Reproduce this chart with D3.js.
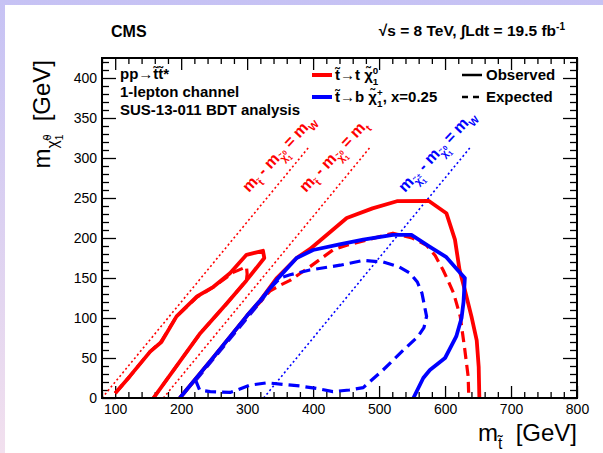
<!DOCTYPE html>
<html><head><meta charset="utf-8">
<script src="https://cdn.jsdelivr.net/npm/d3@7"></script>
<style>
body{margin:0;background:#fff}
svg{display:block}
text{font-family:"Liberation Sans",Arial,Helvetica,sans-serif;white-space:pre}
</style>
</head><body>
<svg id="c" width="603" height="453"></svg>
<script>
// ---------- data ----------
const xDomain = [80, 800];
const yDomain = [0, 425];
const xMajorTicks = [100, 200, 300, 400, 500, 600, 700, 800];
const yMajorTicks = [0, 50, 100, 150, 200, 250, 300, 350, 400];

// stop -> top + neutralino, observed (left sliver and main contour)
const redObsSliver = [[100,6],[122,27],[153,58],[170,70],[193,102],[224,127],[249,139],[274,156],[299,179],[324,184],[326,175],[299,147],[269,118],[229,81],[158,0]];
const redObsMain = [[198,0],[250,52],[300,103],[320,122],[345,150],[375,175],[395,186],[451,225],[490,237],[527,246],[575,246.5],[602,231],[615,198],[622,160],[630,135],[640,102],[648,72],[651,39],[652,0]];
// stop -> top + neutralino, expected
const redExpSliver = [[100,6],[122,27],[153,58],[170,71],[193,102],[224,126],[249,139],[279,157],[299,164],[300,155],[299,147],[269,118],[229,81],[158,0]];
const redExpMain = [[198,0],[250,52],[300,103],[320,120],[335,134],[350,141],[365,147],[395,164],[430,185],[451,191],[521,206],[550,200],[572,191],[585,178],[597,160],[605,146],[613,131],[623,102],[630,60],[635,27],[636,0]];
// stop -> b + chargino, observed / expected
const blueObs = [[198,0],[250,52],[300,103],[320,122],[345,148],[375,175],[400,185],[440,192],[476,198],[521,204],[549,204],[577,189],[602,176],[618,161],[630,150],[628,120],[625,100],[617,77],[600,50],[577,35],[567,25],[552,0]];
const blueExp = [[222,22],[260,60],[300,100],[320,120],[335,137],[350,150],[365,154],[395,160],[441,166],[476,172],[506,170],[530,164],[547,156],[558,145],[565,131],[572,102],[568,88],[559,77],[537,60],[506,35],[476,13],[455,10],[430,8],[405,12],[380,15],[355,17],[330,19],[304,16],[285,10],[274,7],[244,8],[228,10],[222,22]];

// kinematic boundaries
const lineMW = [[80,0],[393,313]];
const lineMt = [[173,0],[486,313]];
const lineMWchargino = [[325,0],[638,313]];

const red = "#ff0000", blue = "#0000ff";

// ---------- drawing ----------
const svg = d3.select("#c");
const defs = svg.append("defs");
const grad = defs.append("linearGradient").attr("id","bg").attr("x1",0).attr("y1",0).attr("x2",0).attr("y2",1);
grad.append("stop").attr("offset","0%").attr("stop-color","#c6c2f4");
grad.append("stop").attr("offset","100%").attr("stop-color","#f2e0ee");
svg.append("rect").attr("width",603).attr("height",453).attr("fill","url(#bg)");
svg.append("rect").attr("x",5).attr("y",5).attr("width",598).attr("height",448).attr("fill","#fff");

const X0=102, X1=577, Y0=398, Y1=58;
const x = d3.scaleLinear().domain(xDomain).range([X0,X1]);
const y = d3.scaleLinear().domain(yDomain).range([Y0,Y1]);

const clip = defs.append("clipPath").attr("id","clip");
clip.append("rect").attr("x",X0).attr("y",Y1).attr("width",X1-X0).attr("height",Y0-Y1);

const xMinor = d3.range(80, 801, 20).filter(v => v%100!==0);
const yMinor = d3.range(0, 426, 10).filter(v => v%50!==0);

function styleAxis(g){ g.select(".domain").remove(); g.selectAll(".tick line").attr("stroke","#000").attr("stroke-width",1.3); }

svg.append("g").attr("transform",`translate(0,${Y0})`)
  .call(d3.axisBottom(x).tickValues(xMajorTicks).tickSize(-12).tickPadding(6).tickFormat(d3.format("d")))
  .call(styleAxis).call(g=>g.selectAll("text").attr("font-size",14).attr("font-family","Liberation Sans, Arial, sans-serif"));
svg.append("g").attr("transform",`translate(0,${Y0})`)
  .call(d3.axisBottom(x).tickValues(xMinor).tickSize(-6).tickFormat("")).call(styleAxis);
svg.append("g").attr("transform",`translate(0,${Y1})`)
  .call(d3.axisTop(x).tickValues(xMajorTicks).tickSize(-12).tickFormat("")).call(styleAxis);
svg.append("g").attr("transform",`translate(0,${Y1})`)
  .call(d3.axisTop(x).tickValues(xMinor).tickSize(-6).tickFormat("")).call(styleAxis);

svg.append("g").attr("transform",`translate(${X0},0)`)
  .call(d3.axisLeft(y).tickValues(yMajorTicks).tickSize(-14).tickPadding(5).tickFormat(d3.format("d")))
  .call(styleAxis).call(g=>g.selectAll("text").attr("font-size",14).attr("font-family","Liberation Sans, Arial, sans-serif"));
svg.append("g").attr("transform",`translate(${X0},0)`)
  .call(d3.axisLeft(y).tickValues(yMinor).tickSize(-7).tickFormat("")).call(styleAxis);
svg.append("g").attr("transform",`translate(${X1},0)`)
  .call(d3.axisRight(y).tickValues(yMajorTicks).tickSize(-14).tickFormat("")).call(styleAxis);
svg.append("g").attr("transform",`translate(${X1},0)`)
  .call(d3.axisRight(y).tickValues(yMinor).tickSize(-7).tickFormat("")).call(styleAxis);

const line = d3.line().x(d=>x(d[0])).y(d=>y(d[1]));
const plot = svg.append("g").attr("clip-path","url(#clip)");

function draw(data, color, width, dash){
  const p = plot.append("path").attr("d", line(data)).attr("fill","none")
    .attr("stroke", color).attr("stroke-width", width)
    .attr("stroke-linejoin","round");
  if(dash) p.attr("stroke-dasharray", dash);
  return p;
}
draw(lineMW, red, 1.6, "2,2.6");
draw(lineMt, red, 1.6, "2,2.6");
draw(lineMWchargino, blue, 1.6, "2,2.6");
draw(redExpSliver, red, 3.2, "11,6");
draw(redExpMain, red, 3.2, "11,6");
draw(blueExp, blue, 3.2, "11,6");
draw(redObsSliver, red, 3.8);
draw(redObsMain, red, 3.8);
draw(blueObs, blue, 3.8);

// frame
svg.append("rect").attr("x",X0).attr("y",Y1).attr("width",X1-X0).attr("height",Y0-Y1)
  .attr("fill","none").attr("stroke","#000").attr("stroke-width",2);

// ---------- rich text helper ----------
function rich(g, x0, y0, node, size, fill, weight){
  if(typeof node === "string"){
    const t = g.append("text").attr("x",x0).attr("y",y0).attr("font-size",size)
      .attr("fill",fill).attr("font-weight",weight).text(node);
    return t.node().getComputedTextLength();
  }
  if(Array.isArray(node)){
    let w=0; for(const n of node){ w += rich(g, x0+w, y0, n, size, fill, weight); } return w;
  }
  const w = rich(g, x0, y0, node.t, size, fill, weight);
  let ws=0, wb=0;
  if(node.sup!=null) ws = rich(g, x0+w, y0-0.42*size, node.sup, size*0.65, fill, weight);
  if(node.sub!=null) wb = rich(g, x0+w, y0+0.32*size, node.sub, size*0.65, fill, weight);
  return w + Math.max(ws, wb);
}

// header
svg.append("text").attr("x",111).attr("y",37).attr("font-size",16).attr("font-weight","bold").text("CMS");
{
  const g = svg.append("g");
  const w = rich(g, 0, 0, ["\u221As = 8 TeV, \u222BLdt = 19.5 fb", {t:"", sup:"-1"}], 15.5, "#000", "bold");
  g.attr("transform", `translate(${565-w},36)`);
}

// info block
const info = ["pp\u2192t\u0303t\u0303*", "1-lepton channel", "SUS-13-011 BDT analysis"];
const infoY = [79, 97, 115];
info.forEach((s,i)=>{
  svg.append("text").attr("x",120).attr("y",infoY[i]).attr("font-size",15).attr("font-weight","bold").text(s);
});

// legend
const leg = svg.append("g");
leg.append("line").attr("x1",312).attr("x2",332).attr("y1",75).attr("y2",75).attr("stroke",red).attr("stroke-width",4);
leg.append("line").attr("x1",312).attr("x2",332).attr("y1",97).attr("y2",97).attr("stroke",blue).attr("stroke-width",4);
leg.append("line").attr("x1",462).attr("x2",482).attr("y1",75).attr("y2",75).attr("stroke","#000").attr("stroke-width",2.5);
leg.append("line").attr("x1",462).attr("x2",482).attr("y1",97).attr("y2",97).attr("stroke","#000").attr("stroke-width",2.5).attr("stroke-dasharray","6,5");
rich(leg, 335, 80, ["t\u0303\u2192t ", {t:"\u03C7\u0303", sup:"0", sub:"1"}], 15, "#000", "bold");
rich(leg, 335, 102, ["t\u0303\u2192b ", {t:"\u03C7\u0303", sup:"+", sub:"1"}, ", x=0.25"], 15, "#000", "bold");
leg.append("text").attr("x",486).attr("y",80).attr("font-size",15).attr("font-weight","bold").text("Observed");
leg.append("text").attr("x",486).attr("y",102).attr("font-size",15).attr("font-weight","bold").text("Expected");

// rotated labels on kinematic lines
const chi0 = {t:"\u03C7\u0303", sup:"0", sub:"1"};
const chiP = {t:"\u03C7\u0303", sup:"\u00B1", sub:"1"};
function rotLabel(px, py, nodes, color){
  const g = svg.append("g").attr("transform", `translate(${px},${py}) rotate(-47)`);
  rich(g, 0, 0, nodes, 16, color, "bold");
}
rotLabel(249, 193, [{t:"m", sub:"t\u0303"}, " - ", {t:"m", sub:chi0}, " = ", {t:"m", sub:"W"}], red);
rotLabel(306, 193, [{t:"m", sub:"t\u0303"}, " - ", {t:"m", sub:chi0}, " = ", {t:"m", sub:"t"}], red);
rotLabel(405, 193, [{t:"m", sub:chiP}, " - ", {t:"m", sub:chi0}, " = ", {t:"m", sub:"W"}], blue);

// axis titles
{
  const g = svg.append("g");
  const w = rich(g, 0, 0, [{t:"m", sub:"t\u0303"}, "  [GeV]"], 24, "#000", "normal");
  g.attr("transform", `translate(${577-w},441)`);
}
{
  const g = svg.append("g");
  const w = rich(g, 0, 0, [{t:"m", sub:chi0}, "  [GeV]"], 24, "#000", "normal");
  g.attr("transform", `translate(50,${60+w}) rotate(-90)`);
}
</script>
</body></html>
